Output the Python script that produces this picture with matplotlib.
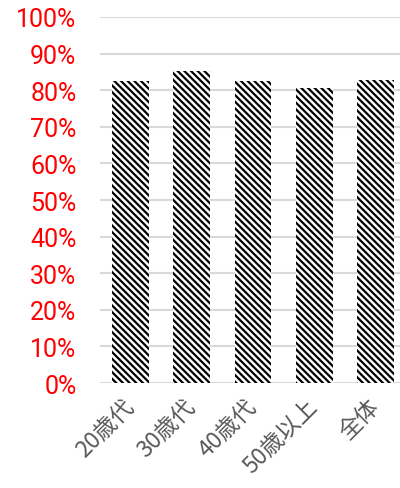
import matplotlib
matplotlib.use('Agg')
import matplotlib.pyplot as plt
import numpy as np

#  ----------------- data
#
categories = ['20歳代', '30歳代', '40歳代', '50歳以上', '全体']
values = [82.5, 85.2, 82.5, 80.6, 82.8]
yticks = list(range(0, 101, 10))
ytick_labels = ['{0}%'.format(t) for t in yticks]

#  ----------------- plot
#
plt.rcParams['hatch.linewidth'] = 1.6
plt.rcParams['hatch.color'] = 'black'

fig = plt.figure(figsize=(4.0, 4.89), dpi=100)
ax = fig.add_axes([0.25, 0.2147, 0.765, 0.7485])

x = np.arange(len(categories))
ax.bar(x, values, width=0.6, color='white', edgecolor='black', linewidth=0,
       hatch='\\\\\\\\\\', zorder=3)

ax.set_xlim(-0.5, len(categories) - 0.5)
ax.set_ylim(0, 100)
ax.set_yticks(yticks)
ax.set_yticklabels(ytick_labels, color='red', fontsize=18, family=['Roboto', 'DejaVu Sans'])
ax.set_xticks(x)
ax.set_xticklabels(categories, rotation=45, ha='right', va='center', rotation_mode='anchor',
                   color='#595959', fontsize=16.5, family=['Noto Sans CJK JP', 'DejaVu Sans'])
ax.tick_params(axis='both', length=0)
ax.tick_params(axis='y', pad=17)
ax.tick_params(axis='x', pad=14)

ax.grid(axis='y', color='#d9d9d9', linewidth=1.5, zorder=0)
for s in ax.spines.values():
	s.set_visible(False)

plt.savefig('out.png', dpi=100)
